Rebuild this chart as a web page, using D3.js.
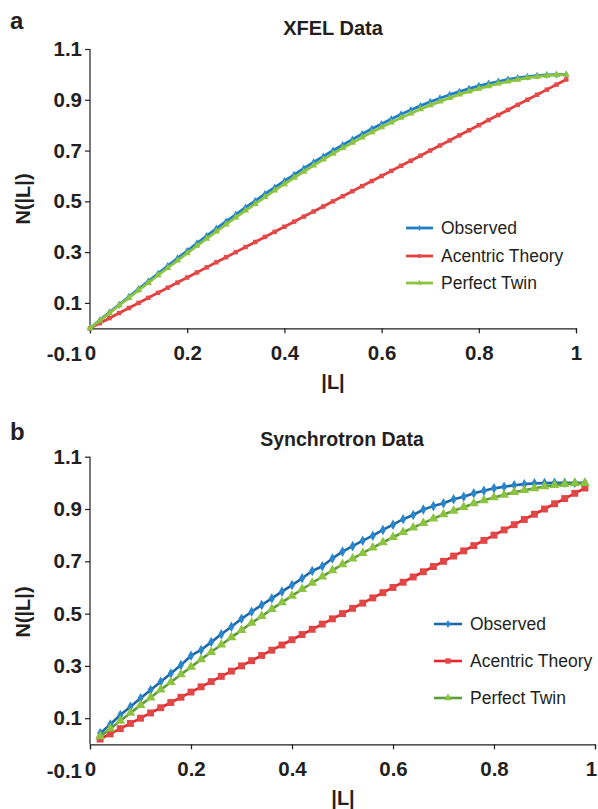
<!DOCTYPE html>
<html>
<head>
<meta charset="utf-8" />
<title>N(|L|) XFEL vs Synchrotron</title>
<style>
  body { margin: 0; background: #fff; }
  text { font-family: "Liberation Sans", Arial, sans-serif; fill: #231f20; }
</style>
</head>
<body>
<script src="https://d3js.org/d3.v7.min.js"></script>
<script>
// ---- data ----
var seriesNames = ["Observed", "Acentric Theory", "Perfect Twin"];
var yTicks = [-0.1, 0.1, 0.3, 0.5, 0.7, 0.9, 1.1];
var xTicks = [0, 0.2, 0.4, 0.6, 0.8, 1];

// panel a : XFEL, |L| = 0 .. 0.98
var xfelL = [0, 0.02, 0.04, 0.06, 0.08, 0.10, 0.12, 0.14, 0.16, 0.18,
             0.20, 0.22, 0.24, 0.26, 0.28, 0.30, 0.32, 0.34, 0.36, 0.38,
             0.40, 0.42, 0.44, 0.46, 0.48, 0.50, 0.52, 0.54, 0.56, 0.58,
             0.60, 0.62, 0.64, 0.66, 0.68, 0.70, 0.72, 0.74, 0.76, 0.78,
             0.80, 0.82, 0.84, 0.86, 0.88, 0.90, 0.92, 0.94, 0.96, 0.98];
var xfelObserved = [0.000, 0.032, 0.063, 0.093, 0.124, 0.155, 0.185, 0.215, 0.246, 0.276,
                    0.305, 0.335, 0.364, 0.393, 0.421, 0.448, 0.476, 0.502, 0.529, 0.555,
                    0.580, 0.605, 0.630, 0.654, 0.677, 0.700, 0.722, 0.744, 0.765, 0.786,
                    0.805, 0.824, 0.843, 0.860, 0.876, 0.892, 0.906, 0.920, 0.932, 0.944,
                    0.955, 0.964, 0.972, 0.980, 0.986, 0.991, 0.995, 0.998, 0.999, 1.000];
var xfelAcentric = [0.00, 0.02, 0.04, 0.06, 0.08, 0.10, 0.12, 0.14, 0.16, 0.18,
                    0.20, 0.22, 0.24, 0.26, 0.28, 0.30, 0.32, 0.34, 0.36, 0.38,
                    0.40, 0.42, 0.44, 0.46, 0.48, 0.50, 0.52, 0.54, 0.56, 0.58,
                    0.60, 0.62, 0.64, 0.66, 0.68, 0.70, 0.72, 0.74, 0.76, 0.78,
                    0.80, 0.82, 0.84, 0.86, 0.88, 0.90, 0.92, 0.94, 0.96, 0.98];
var xfelTwin = [0.000, 0.030, 0.060, 0.090, 0.120, 0.150, 0.179, 0.209, 0.238, 0.267,
                0.296, 0.325, 0.353, 0.381, 0.409, 0.437, 0.464, 0.490, 0.517, 0.543,
                0.568, 0.593, 0.617, 0.641, 0.665, 0.688, 0.710, 0.731, 0.752, 0.772,
                0.792, 0.811, 0.829, 0.846, 0.863, 0.879, 0.893, 0.907, 0.921, 0.933,
                0.944, 0.954, 0.964, 0.972, 0.979, 0.986, 0.991, 0.995, 0.998, 0.999];

// panel b : Synchrotron, |L| = 0.02 .. 0.98
var syncL = [0.02, 0.04, 0.06, 0.08, 0.10, 0.12, 0.14, 0.16, 0.18,
             0.20, 0.22, 0.24, 0.26, 0.28, 0.30, 0.32, 0.34, 0.36, 0.38,
             0.40, 0.42, 0.44, 0.46, 0.48, 0.50, 0.52, 0.54, 0.56, 0.58,
             0.60, 0.62, 0.64, 0.66, 0.68, 0.70, 0.72, 0.74, 0.76, 0.78,
             0.80, 0.82, 0.84, 0.86, 0.88, 0.90, 0.92, 0.94, 0.96, 0.98];
var syncObserved = [0.042, 0.076, 0.112, 0.144, 0.176, 0.208, 0.239, 0.271, 0.303,
                    0.339, 0.361, 0.391, 0.421, 0.450, 0.480, 0.507, 0.533, 0.558, 0.584,
                    0.609, 0.635, 0.663, 0.681, 0.711, 0.737, 0.758, 0.779, 0.798, 0.820,
                    0.840, 0.861, 0.877, 0.898, 0.911, 0.922, 0.937, 0.947, 0.960, 0.970,
                    0.979, 0.985, 0.991, 0.995, 0.998, 0.999, 1.000, 1.000, 1.000, 1.000];
var syncAcentric = [0.02, 0.04, 0.06, 0.08, 0.10, 0.12, 0.14, 0.16, 0.18,
                    0.20, 0.22, 0.24, 0.26, 0.28, 0.30, 0.32, 0.34, 0.36, 0.38,
                    0.40, 0.42, 0.44, 0.46, 0.48, 0.50, 0.52, 0.54, 0.56, 0.58,
                    0.60, 0.62, 0.64, 0.66, 0.68, 0.70, 0.72, 0.74, 0.76, 0.78,
                    0.80, 0.82, 0.84, 0.86, 0.88, 0.90, 0.92, 0.94, 0.96, 0.98];
var syncTwin = [0.030, 0.060, 0.090, 0.120, 0.150, 0.179, 0.209, 0.238, 0.267,
                0.296, 0.325, 0.353, 0.381, 0.409, 0.437, 0.464, 0.490, 0.517, 0.543,
                0.568, 0.593, 0.617, 0.641, 0.665, 0.688, 0.710, 0.731, 0.752, 0.772,
                0.792, 0.811, 0.829, 0.846, 0.863, 0.879, 0.893, 0.907, 0.921, 0.933,
                0.944, 0.954, 0.964, 0.972, 0.979, 0.986, 0.991, 0.995, 0.998, 0.999];

var svg = d3.select("body").append("svg")
            .attr("width", 598)
            .attr("height", 809);

var tickFont = "20.5px";

function drawPanel(p) {
    var x = d3.scaleLinear().domain([0, 1]).range([p.left, p.right]);
    var y = d3.scaleLinear().domain([-0.1, 1.1]).range([p.bottom, p.top]);
    var g = svg.append("g");

    // panel letter + title
    g.append("text").attr("x", 10).attr("y", p.letterY)
     .style("font-size", "24px").style("font-weight", "bold").text(p.letter);
    g.append("text").attr("x", p.titleX).attr("y", p.titleY)
     .attr("text-anchor", "middle")
     .style("font-size", p.titleSize).style("font-weight", "bold").text(p.title);

    // y axis
    var yAxis = g.append("g")
        .attr("transform", "translate(" + p.left + ",0)")
        .call(d3.axisLeft(y).tickValues(yTicks).tickSize(5).tickPadding(3)
                .tickFormat(d => d.toFixed(1)));
    yAxis.select(".domain").remove();
    yAxis.selectAll(".tick").filter(d => d < 0).select("line").remove();
    yAxis.selectAll("line").attr("stroke", "#231f20").attr("stroke-width", 1.2);
    yAxis.selectAll("text").style("font-size", tickFont).style("font-weight", "bold")
         .style("font-family", "'Liberation Sans', Arial, sans-serif").attr("fill", "#231f20");
    g.append("line")
     .attr("x1", p.left).attr("x2", p.left)
     .attr("y1", y(1.1)).attr("y2", y(0))
     .attr("stroke", "#231f20").attr("stroke-width", 1.2);

    // x axis at y = 0
    var xAxis = g.append("g")
        .attr("transform", "translate(0," + y(0) + ")")
        .call(d3.axisBottom(x).tickValues(xTicks).tickSize(5).tickPadding(12)
                .tickFormat(d => String(+d.toFixed(1))));
    xAxis.select(".domain").attr("stroke", "#231f20").attr("stroke-width", 1.2);
    xAxis.selectAll("line").attr("stroke", "#231f20").attr("stroke-width", 1.2);
    xAxis.selectAll("text").style("font-size", tickFont).style("font-weight", "bold")
         .style("font-family", "'Liberation Sans', Arial, sans-serif").attr("fill", "#231f20");
    // keep the last label inside the page
    xAxis.selectAll(".tick").filter(d => d === 1).select("text").attr("dx", p.lastDx);

    // axis titles
    g.append("text").attr("x", p.xLabelX).attr("y", p.xLabelY)
     .attr("text-anchor", "middle")
     .style("font-size", "20px").style("font-weight", "bold").text("|L|");
    g.append("text")
     .attr("transform", "translate(" + 30 + "," + p.yLabelY + ") rotate(-90)")
     .attr("text-anchor", "middle")
     .style("font-size", "20px").style("font-weight", "bold").text("N(|L|)");

    // series
    var line = d3.line().x(d => x(d[0])).y(d => y(d[1]));
    p.series.forEach(function (s) {
        var pts = p.L.map((l, i) => [l, s.values[i]]);
        g.append("path").attr("d", line(pts))
         .attr("fill", "none").attr("stroke", s.line)
         .attr("stroke-width", p.lineWidth).attr("stroke-linejoin", "round");
        g.append("g").selectAll("path").data(pts).enter().append("path")
         .attr("transform", d => "translate(" + x(d[0]) + "," + y(d[1]) + ")")
         .attr("d", d3.symbol().type(s.symbol).size(s.size))
         .attr("fill", s.marker);
    });

    // legend
    p.series.forEach(function (s, i) {
        var ly = p.legendY[i];
        g.append("line")
         .attr("x1", p.legendX).attr("x2", p.legendX + p.legendW)
         .attr("y1", ly).attr("y2", ly)
         .attr("stroke", s.line).attr("stroke-width", p.lineWidth);
        g.append("path")
         .attr("transform", "translate(" + (p.legendX + p.legendW / 2) + "," + ly + ")")
         .attr("d", d3.symbol().type(s.symbol).size(s.size * 0.6))
         .attr("fill", s.marker);
        g.append("text")
         .attr("x", p.legendX + p.legendW + 8).attr("y", ly).attr("dy", "0.35em")
         .style("font-size", "17.5px").text(seriesNames[i]);
    });
}

drawPanel({
    letter: "a", letterY: 29, title: "XFEL Data", titleX: 333, titleY: 35, titleSize: "20px",
    left: 90, right: 576, top: 49, bottom: 353.7,
    xLabelX: 333, xLabelY: 389, yLabelY: 199, lastDx: 0,
    lineWidth: 2.8,
    L: xfelL,
    legendX: 406, legendW: 27, legendY: [228, 256, 283],
    series: [
        { values: xfelObserved, line: "#1e7fc6", marker: "#2a8ad4", symbol: d3.symbolDiamond, size: 18 },
        { values: xfelAcentric, line: "#e23f3f", marker: "#e44a4a", symbol: d3.symbolSquare, size: 20 },
        { values: xfelTwin, line: "#8cc440", marker: "#8cc440", symbol: d3.symbolTriangle, size: 22 }
    ]
});

drawPanel({
    letter: "b", letterY: 440, title: "Synchrotron Data", titleX: 342, titleY: 446, titleSize: "19.5px",
    left: 90, right: 595, top: 456.7, bottom: 770.5,
    xLabelX: 343, xLabelY: 805, yLabelY: 612, lastDx: -4,
    lineWidth: 2.6,
    L: syncL,
    legendX: 434, legendW: 28, legendY: [624, 661, 698],
    series: [
        { values: syncObserved, line: "#1b69a8", marker: "#2a86cc", symbol: d3.symbolDiamond, size: 32 },
        { values: syncAcentric, line: "#e4252b", marker: "#e04848", symbol: d3.symbolSquare, size: 48 },
        { values: syncTwin, line: "#5e9a3a", marker: "#8cc440", symbol: d3.symbolTriangle, size: 42 }
    ]
});
</script>
</body>
</html>
